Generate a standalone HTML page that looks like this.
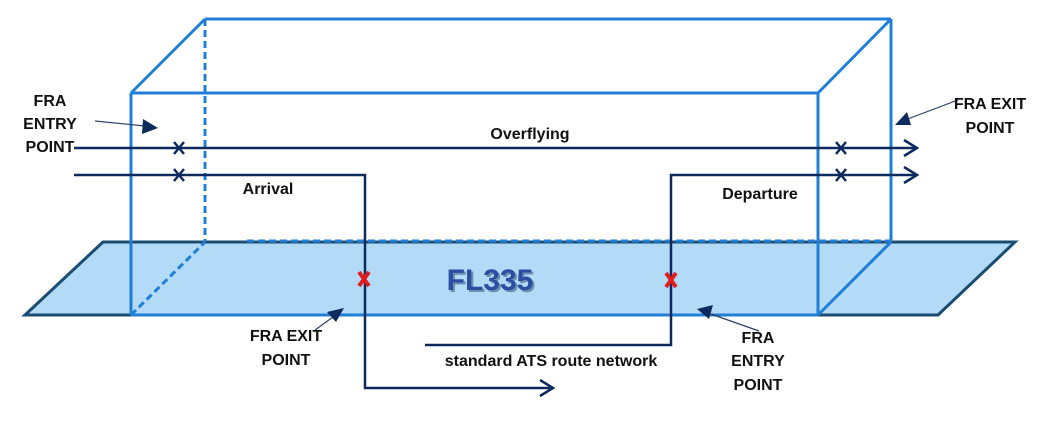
<!DOCTYPE html>
<html><head><meta charset="utf-8"><style>html,body{margin:0;padding:0;background:#fff}svg{display:block}text{font-family:"Liberation Sans",sans-serif;font-weight:bold;fill:#111}</style></head>
<body>
<svg width="1054" height="426" viewBox="0 0 1054 426" xmlns="http://www.w3.org/2000/svg">
<defs>
<marker id="tri" markerWidth="10" markerHeight="10" refX="8" refY="5" orient="auto" markerUnits="userSpaceOnUse"><path d="M0,0 L10,5 L0,10 z" fill="#0d2a5e" transform="scale(1.5) translate(-3,-1.7)"/></marker>
</defs>
<!-- plane -->
<polygon points="103,242 1015,242 938,315 25,315" fill="#b3dbf8" stroke="#1b4d72" stroke-width="3"/>
<!-- box -->
<g stroke="#1f7fd6" stroke-width="3" fill="none">
<line x1="205" y1="19" x2="891" y2="19"/>
<line x1="131" y1="93" x2="818" y2="93"/>
<line x1="131" y1="93" x2="205" y2="19"/>
<line x1="818" y1="93" x2="891" y2="19"/>
<line x1="891" y1="19" x2="891" y2="242"/>
<line x1="131" y1="93" x2="131" y2="315"/>
<line x1="818" y1="93" x2="818" y2="315"/>
<line x1="818" y1="315" x2="891" y2="242"/>
<line x1="131" y1="315" x2="818" y2="315"/>
<g stroke-dasharray="7,4">
<line x1="205" y1="19" x2="205" y2="242"/>
<line x1="131" y1="315" x2="205" y2="242"/>
<line x1="247" y1="241" x2="891" y2="241"/>
</g>
</g>
<!-- routes -->
<g stroke="#0d2a5e" stroke-width="2.5" fill="none">
<line x1="74" y1="148" x2="915" y2="148"/>
<polyline points="904,140 917,148 904,156"/>
<polyline points="74,175 365,175 365,388 550,388"/>
<polyline points="540,380 553,388 540,396"/>
<polyline points="425,345 671,345 671,175 915,175"/>
<polyline points="904,167 917,175 904,183"/>
</g>
<g stroke="#0d2a5e" stroke-width="2.5">
<path d="M174,142 L184,154 M184,142 L174,154"/>
<path d="M174,169 L184,181 M184,169 L174,181"/>
<path d="M836,142 L846,154 M846,142 L836,154"/>
<path d="M836,169 L846,181 M846,169 L836,181"/>
</g>
<g stroke="#e01c1c" stroke-width="4">
<path d="M359,272 L369,286 M369,272 L359,286"/>
<path d="M666,273 L676,287 M676,273 L666,287"/>
</g>
<!-- pointer arrows -->
<g stroke="#2a3f66" stroke-width="1.2" fill="#0d2a5e">
<line x1="95" y1="121" x2="145" y2="126"/>
<polygon points="158,128 143,119 142,134" stroke="none"/>
<line x1="958" y1="100" x2="905" y2="120"/>
<polygon points="895,125 907,112 911,125" stroke="none"/>
<line x1="315" y1="330" x2="333" y2="317"/>
<polygon points="344,308 327,312 336,322" stroke="none"/>
<line x1="759" y1="331" x2="708" y2="313"/>
<polygon points="697,309 713,305 709,319" stroke="none"/>
</g>
<!-- labels -->
<g font-size="16">
<text x="50" y="106" text-anchor="middle">FRA</text>
<text x="50" y="129" text-anchor="middle">ENTRY</text>
<text x="50" y="152" text-anchor="middle">POINT</text>
<text x="530" y="139" text-anchor="middle">Overflying</text>
<text x="268" y="194" text-anchor="middle">Arrival</text>
<text x="760" y="199" text-anchor="middle">Departure</text>
<text x="990" y="109" text-anchor="middle">FRA EXIT</text>
<text x="990" y="133" text-anchor="middle">POINT</text>
<text x="286" y="341" text-anchor="middle">FRA EXIT</text>
<text x="286" y="365" text-anchor="middle">POINT</text>
<text x="551" y="366" text-anchor="middle">standard ATS route network</text>
<text x="758" y="343" text-anchor="middle">FRA</text>
<text x="758" y="366" text-anchor="middle">ENTRY</text>
<text x="758" y="390" text-anchor="middle">POINT</text>
</g>
<text x="492" y="292" text-anchor="middle" font-size="30" style="fill:#6f8fb0">FL335</text>
<text x="490" y="290" text-anchor="middle" font-size="30" style="fill:#2b4ea3">FL335</text>
</svg>
</body></html>
